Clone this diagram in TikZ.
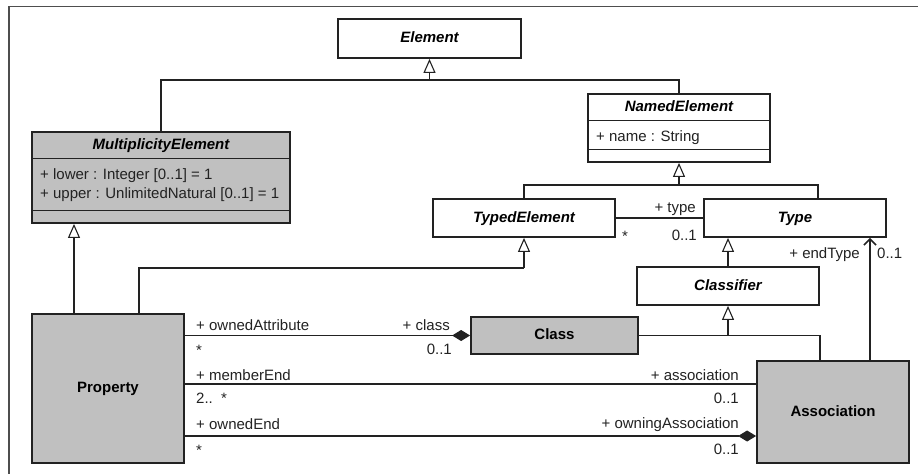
\documentclass[tikz,border=0pt]{standalone}
\usepackage{fontspec}
\setmainfont{Liberation Sans}
\usetikzlibrary{arrows.meta}
\definecolor{umlgrey}{HTML}{C0C0C0}
\definecolor{inkline}{HTML}{222222}
\begin{document}
\begin{tikzpicture}[x=1pt,y=-1pt,
  font=\fontsize{15}{18}\selectfont,
  cls/.style={draw=inkline, line width=1.8pt, fill=white, inner sep=0pt,
    text height=11pt, text depth=3pt},
  greybox/.style={cls, fill=umlgrey},
  ttl/.style={font=\fontsize{15}{18}\selectfont\bfseries\itshape, inner sep=0pt,
    text height=11pt, text depth=3pt},
  bld/.style={font=\fontsize{15}{18}\selectfont\bfseries},
  sep/.style={draw=inkline, line width=1.2pt},
  lbl/.style={inner sep=0pt, text=inkline},
  conn/.style={draw=inkline, line width=1.1pt},
  gen/.style={conn, -{Triangle[open,length=14pt,width=12pt,line width=1.1pt]}},
  nav/.style={conn, -{Straight Barb[length=6pt,width=12pt,line width=1.6pt]}},
  compstart/.style={conn, {Diamond[length=18pt,width=11pt]}-},
  compend/.style={conn, -{Diamond[length=18pt,width=11pt]}}
]
\useasboundingbox (0,0) rectangle (918,474);

% outer frame (only top and left edges are visible)
\draw[draw=inkline!80, line width=1.5pt] (918,6.5) -- (9,6.5) -- (9,474);

% classes
\node[cls, ttl, minimum width=183pt, minimum height=39pt] (Element) at (429.5,38.5) {Element};

\node[greybox, minimum width=258pt, minimum height=91pt] (ME) at (161,177.5) {};
\node[ttl] (MEt) at (161,145.5) {MultiplicityElement};
\draw[sep] ([yshift=-27pt]ME.north west) -- ([yshift=-27pt]ME.north east);
\draw[sep] ([yshift=-79pt]ME.north west) -- ([yshift=-79pt]ME.north east);
\node[lbl, anchor=base west] (MEa1) at (40,179) {+ lower : Integer [0..1] = 1};
\node[lbl, anchor=base west] (MEa2) at (40,198) {+ upper : UnlimitedNatural [0..1] = 1};

\node[cls, minimum width=182pt, minimum height=68pt] (NE) at (679,128) {};
\node[ttl] (NEt) at (679,107.5) {NamedElement};
\draw[sep] ([yshift=-27pt]NE.north west) -- ([yshift=-27pt]NE.north east);
\draw[sep] ([yshift=-56pt]NE.north west) -- ([yshift=-56pt]NE.north east);
\node[lbl, anchor=base west] (NEa1) at (596,141) {+ name : String};

\node[cls, ttl, minimum width=182pt, minimum height=38pt] (TE) at (524,218) {TypedElement};
\node[cls, ttl, minimum width=182pt, minimum height=38pt] (Type) at (795,218) {Type};
\node[cls, ttl, minimum width=182pt, minimum height=38pt] (Classifier) at (728,286) {Classifier};
\node[greybox, bld, minimum width=167pt, minimum height=37pt] (Class) at (554.5,335.5) {Class};
\node[greybox, bld, minimum width=152pt, minimum height=149pt] (Property) at (108,388.5) {Property};
\node[greybox, bld, minimum width=152pt, minimum height=102pt] (Association) at (833,412) {Association};

% generalizations
\coordinate (j1) at (429.5,80);
\draw[conn] (ME.north) |- (j1) -| (NE.north);
\draw[gen] (j1) -- (Element.south);

\coordinate (j2) at (679,185);
\draw[conn] (TE.north) |- (j2) -| ([xshift=23pt]Type.north);
\draw[gen] (j2) -- (NE.south);

\coordinate (j3) at (524,268);
\draw[conn] ([xshift=31pt]Property.north) |- (j3);
\draw[gen] (j3) -- (TE.south);

\draw[gen] ([xshift=-34pt]Property.north) -- ([xshift=-87pt]ME.south);

\draw[gen] (Classifier.north) -- ([xshift=-67pt]Type.south);

\coordinate (j4) at (728,335.5);
\draw[conn] (Class.east) -| ([xshift=-13pt]Association.north);
\draw[gen] (j4) -- (Classifier.south);

% associations
\draw[conn] (TE.east) -- (Type.west);
\node[lbl, anchor=base east] (tyR) at (696,212) {+ type};
\node[lbl, anchor=base west] (tyS) at (622,241) {*};
\node[lbl, anchor=base east] (tyM) at (697,240) {0..1};

\draw[nav] ([xshift=37pt]Association.north) -- ([xshift=75pt]Type.south);
\node[lbl, anchor=base east] (etR) at (860,258) {+ endType};
\node[lbl, anchor=base west] (etM) at (877,258) {0..1};

\draw[compstart] (Class.west) -- (Class.west -| Property.east);
\node[lbl, anchor=base west] (oaR) at (196,330) {+ ownedAttribute};
\node[lbl, anchor=base west] (oaM) at (196,355) {*};
\node[lbl, anchor=base east] (clR) at (450,330) {+ class};
\node[lbl, anchor=base east] (clM) at (452,354) {0..1};

\draw[conn] ([yshift=4.5pt]Property.east) -- ([yshift=28pt]Association.west);
\node[lbl, anchor=base west] (meR) at (196,380) {+ memberEnd};
\node[lbl, anchor=base west] (meM) at (196,403) {2..\ \ *};
\node[lbl, anchor=base east] (asR) at (739,380) {+ association};
\node[lbl, anchor=base east] (asM) at (739,403) {0..1};

\draw[compend] ([yshift=-47.5pt]Property.east) -- ([yshift=-24pt]Association.west);
\node[lbl, anchor=base west] (oeR) at (196,429) {+ ownedEnd};
\node[lbl, anchor=base west] (oeM) at (196,455) {*};
\node[lbl, anchor=base east] (owR) at (739,428) {+ owningAssociation};
\node[lbl, anchor=base east] (owM) at (739,454) {0..1};
\end{tikzpicture}
\end{document}
